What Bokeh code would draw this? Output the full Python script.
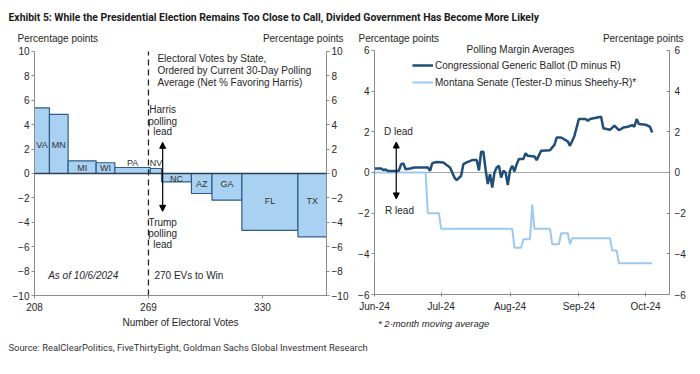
import pandas as pd
from bokeh.plotting import figure
from bokeh.models import (Range1d, LinearAxis, FixedTicker, Label, Span, Arrow, NormalHead,
                          DatetimeTickFormatter, Legend, LegendItem)
from bokeh.core.properties import value
from bokeh.layouts import column, row
from bokeh.embed import file_html
from bokeh.resources import INLINE

# ---------------- data ----------------
title_text = ("Exhibit 5: While the Presidential Election Remains Too Close to Call, "
              "Divided Government Has Become More Likely")
source_text = "Source: RealClearPolitics, FiveThirtyEight, Goldman Sachs Global Investment Research"

states = ["VA", "MN", "MI", "WI", "PA", "NV", "NC", "AZ", "GA", "FL", "TX"]
electoral_votes = [13, 10, 15, 10, 19, 6, 16, 11, 16, 30, 40]
net_harris = [5.38, 4.84, 1.04, 0.88, 0.49, 0.41, -0.68, -1.64, -2.19, -4.67, -5.19]
ev_base = 203
ev_to_win = 269
ev_ticks = [208, 269, 330]
ev_tick_labels = ["208", "269", "330"]
y_ticks_left = [-10, -8, -6, -4, -2, 0, 2, 4, 6, 8, 10]

gb_dates = ["2024-06-01", "2024-06-04", "2024-06-05", "2024-06-06", "2024-06-07", "2024-06-11",
            "2024-06-12", "2024-06-13", "2024-06-14", "2024-06-15", "2024-06-17", "2024-06-19",
            "2024-06-25", "2024-06-26", "2024-06-27", "2024-06-29", "2024-07-02", "2024-07-03",
            "2024-07-05", "2024-07-07", "2024-07-08", "2024-07-10", "2024-07-11", "2024-07-13",
            "2024-07-15", "2024-07-17", "2024-07-18", "2024-07-19", "2024-07-20", "2024-07-21",
            "2024-07-22", "2024-07-23", "2024-07-24", "2024-07-25", "2024-07-26", "2024-07-27",
            "2024-07-28", "2024-07-29", "2024-07-30", "2024-07-31", "2024-08-01", "2024-08-02",
            "2024-08-03", "2024-08-04", "2024-08-05", "2024-08-07", "2024-08-08", "2024-08-09",
            "2024-08-12", "2024-08-13", "2024-08-15", "2024-08-19", "2024-08-21", "2024-08-22",
            "2024-08-24", "2024-08-27", "2024-08-28", "2024-08-30", "2024-09-01", "2024-09-04",
            "2024-09-05", "2024-09-06", "2024-09-11", "2024-09-12", "2024-09-14", "2024-09-15",
            "2024-09-17", "2024-09-19", "2024-09-21", "2024-09-23", "2024-09-25", "2024-09-26",
            "2024-09-27", "2024-09-28", "2024-10-01", "2024-10-03", "2024-10-04"]
gb_values = [0.2, 0.2, 0.12, 0.15, 0.07, 0.07, 0.1, 0.41, 0.44, 0.16, 0.2, 0.25,
             0.25, 0.08, 0.46, 0.52, 0.49, 0.41, 0.25, -0.25, -0.38, -0.16, 0.41, 0.52,
             0.61, 0.61, 0.1, 1.02, 1.02, 0.16, -0.57, -0.08, -0.74, 0.0, 0.25, 0.33,
             -0.25, 0.08, 0.0, -0.62, 0.1, 0.33, 0.05, 0.41, 0.66, 0.66, 0.95, 0.82,
             0.79, 0.61, 1.07, 1.1, 1.36, 1.72, 1.72, 1.53, 1.31, 1.8, 2.63, 2.63,
             2.55, 2.63, 2.74, 2.18, 2.13, 2.1, 2.3, 2.08, 2.21, 2.25, 2.33, 2.25,
             2.63, 2.38, 2.35, 2.25, 1.97]

mt_dates = ["2024-06-01", "2024-06-24", "2024-06-25", "2024-06-30", "2024-07-01", "2024-08-02",
            "2024-08-03", "2024-08-06", "2024-08-07", "2024-08-10", "2024-08-11", "2024-08-12",
            "2024-08-19", "2024-08-20", "2024-08-23", "2024-08-24", "2024-08-27", "2024-08-28",
            "2024-08-29", "2024-09-15", "2024-09-16", "2024-09-18", "2024-09-19", "2024-10-04"]
mt_values = [0, 0, -2.0, -2.0, -2.77, -2.77, -3.7, -3.7, -3.28, -3.28, -1.58, -2.77,
             -2.77, -3.53, -3.53, -2.99, -2.99, -3.53, -3.23, -3.23, -3.83, -3.83, -4.46, -4.46]

month_ticks = ["2024-06-01", "2024-07-01", "2024-08-01", "2024-09-01", "2024-10-01"]
month_labels = ["Jun-24", "Jul-24", "Aug-24", "Sep-24", "Oct-24"]
y_ticks_right = [-6, -4, -2, 0, 2, 4, 6]

# ---------------- styles ----------------
FONT = "Liberation Sans"
NARROW = "Roboto"
TXT = "#262626"
AX = "#8c8c8c"
BAR_FILL = "#A9D1F1"
BAR_LINE = "#2F5C8A"
GB_COLOR = "#1F4E79"
MT_COLOR = "#9DC9EE"
bar_label_y = [2.3, 2.3, 0.42, 0.42, 0.9, 0.9, -0.45, -0.85, -0.85, -2.27, -2.27]


def ms(s):
    return pd.Timestamp(s).value / 1e6


def style_axis(ax, tin=0, tout=3, standoff=2):
    ax.axis_line_color = AX
    ax.major_tick_line_color = AX
    ax.minor_tick_line_color = None
    ax.major_tick_in = tin
    ax.major_tick_out = tout
    ax.major_label_text_font = FONT
    ax.major_label_text_font_size = "10px"
    ax.major_label_text_color = TXT
    ax.major_label_standoff = standoff


def lab(p, x, y, text, align="left", size="10px", style="normal", font=FONT, color=TXT):
    p.add_layout(Label(x=x, y=y, text=text, text_align=align, text_baseline="middle",
                       text_font=font, text_font_size=size, text_font_style=style,
                       text_color=color))


def blank(w, h):
    f = figure(width=w, height=h, x_range=Range1d(0, w), y_range=Range1d(0, h),
               output_backend="svg", toolbar_location=None, min_border=0,
               x_axis_location=None, y_axis_location=None)
    f.grid.visible = False
    f.outline_line_color = None
    return f


# ---------------- header figure (title + unit labels) ----------------
pt = blank(700, 44)
lab(pt, 8, 27, title_text, size="10.4px", style="bold", font=NARROW, color="#1a1a1a")
lab(pt, 17, 6.3, "Percentage points")
lab(pt, 343, 6.3, "Percentage points", align="right")
lab(pt, 358, 6.3, "Percentage points")
lab(pt, 683, 6.3, "Percentage points", align="right")

# ---------------- left panel ----------------
x0, x1 = 208, 364.3
pA = figure(width=354, height=286, x_range=Range1d(x0, x1), y_range=Range1d(-10, 10.571),
            output_backend="svg", toolbar_location=None,
            min_border_left=34, min_border_right=28, min_border_top=0, min_border_bottom=34)
pA.grid.visible = False
pA.outline_line_color = None
pA.xaxis.ticker = FixedTicker(ticks=ev_ticks)
pA.xaxis.major_label_overrides = {t: l for t, l in zip(ev_ticks, ev_tick_labels)}
pA.xaxis.axis_label = "Number of Electoral Votes"
pA.xaxis.axis_label_text_font = FONT
pA.xaxis.axis_label_text_font_size = "10px"
pA.xaxis.axis_label_text_font_style = "normal"
pA.xaxis.axis_label_text_color = TXT
pA.xaxis.axis_label_standoff = 3
pA.yaxis.ticker = FixedTicker(ticks=y_ticks_left)
pA.add_layout(LinearAxis(ticker=FixedTicker(ticks=y_ticks_left)), "right")
for ax in pA.yaxis:
    style_axis(ax)
    ax.bounds = (min(y_ticks_left), max(y_ticks_left))
style_axis(pA.xaxis[0], standoff=4)

starts = []
acc = ev_base
for ev in electoral_votes:
    starts.append(acc)
    acc += ev
ends = [s + e for s, e in zip(starts, electoral_votes)]
pA.quad(left=starts, right=ends, bottom=0, top=net_harris, fill_color=BAR_FILL,
        line_color=BAR_LINE, line_width=1.2)
pA.add_layout(Span(location=0, dimension="width", line_color="#2b3f55", line_width=1.5))
pA.segment(x0=[ev_to_win], y0=[min(y_ticks_left)], x1=[ev_to_win], y1=[max(y_ticks_left)],
           line_color="#222222", line_width=1.3, line_dash="6 4")
label_x = [(max(s, x0) + min(e, x1)) / 2 for s, e in zip(starts, ends)]
pA.text(x=label_x, y=bar_label_y, text=states, text_align="center", text_baseline="middle",
        text_font=value(FONT), text_font_size="9px", text_color="#333333")

pA.add_layout(Arrow(x_start=276.6, y_start=-3.1, x_end=276.6, y_end=2.55,
                    start=NormalHead(size=6, fill_color="black", line_color="black"),
                    end=NormalHead(size=6, fill_color="black", line_color="black"),
                    line_color="black", line_width=1.2))
for t, yy in zip(["Harris", "polling", "lead"], [5.25, 4.28, 3.45]):
    lab(pA, 276.6, yy, t, align="center")
for t, yy in zip(["Trump", "polling", "lead"], [-4.0, -4.93, -5.82]):
    lab(pA, 276.6, yy, t, align="center")
for t, yy in zip(["Electoral Votes by State,", "Ordered  by Current  30-Day Polling",
                  "Average  (Net % Favoring Harris)"], [9.43, 8.47, 7.48]):
    lab(pA, 273.8, yy, t)
lab(pA, 215.3, -8.39, "As of 10/6/2024", style="italic")
lab(pA, 272.2, -8.39, "270 EVs to Win")

# ---------------- right panel ----------------
d0 = pd.Timestamp("2024-06-01")
d1 = pd.Timestamp("2024-10-11 19:00")
pB = figure(width=346, height=272, x_axis_type="datetime", x_range=Range1d(d0, d1),
            y_range=Range1d(-6, 6.295), output_backend="svg", toolbar_location=None,
            min_border_left=20, min_border_right=31, min_border_top=0, min_border_bottom=22)
pB.grid.visible = False
pB.outline_line_color = None
tick_ms = [ms(d) for d in month_ticks]
pB.xaxis.ticker = FixedTicker(ticks=tick_ms)
pB.xaxis.formatter = DatetimeTickFormatter(days="%b-%y", months="%b-%y", years="%b-%y")
pB.xaxis.major_label_overrides = {t: l for t, l in zip(tick_ms, month_labels)}
pB.yaxis.ticker = FixedTicker(ticks=y_ticks_right)
pB.add_layout(LinearAxis(ticker=FixedTicker(ticks=y_ticks_right)), "right")
style_axis(pB.xaxis[0], tin=2, tout=2, standoff=4)
style_axis(pB.yaxis[0], tin=0, tout=3)
style_axis(pB.yaxis[1], tin=3, tout=0, standoff=5)
for ax in pB.yaxis:
    ax.bounds = (min(y_ticks_right), max(y_ticks_right))

pB.add_layout(Span(location=0, dimension="width", line_color="#A6A6A6", line_width=1,
                   level="underlay"))
r_mt = pB.line(x=pd.to_datetime(mt_dates), y=mt_values, line_color=MT_COLOR, line_width=2)
r_gb = pB.line(x=pd.to_datetime(gb_dates), y=gb_values, line_color=GB_COLOR, line_width=2.5)

legend = Legend(items=[LegendItem(label="Congressional Generic Ballot (D minus R)", renderers=[r_gb]),
                       LegendItem(label="Montana Senate (Tester-D minus Sheehy-R)*", renderers=[r_mt])],
                location=(38, 205), padding=0, margin=0, spacing=3,
                label_text_font=FONT, label_text_font_size="10px", label_text_color=TXT,
                label_height=14, glyph_height=14, glyph_width=21, label_standoff=2,
                border_line_color=None, background_fill_alpha=0)
pB.add_layout(legend)

pB.add_layout(Arrow(x_start=ms("2024-06-10 19:00"), y_start=-1.3, x_end=ms("2024-06-10 19:00"),
                    y_end=1.5,
                    start=NormalHead(size=6, fill_color="black", line_color="black"),
                    end=NormalHead(size=6, fill_color="black", line_color="black"),
                    line_color="black", line_width=1.2))
lab(pB, ms("2024-06-11 19:00"), 2.03, "D lead", align="center")
lab(pB, ms("2024-06-12 06:00"), -1.87, "R lead", align="center")
lab(pB, ms("2024-08-05 19:00"), 6.05, "Polling Margin Averages", align="center")

# footnote strip under the right panel
pF = blank(346, 14)
lab(pF, 4, 7, "* 2-month moving average", size="9.5px", style="italic")

# ---------------- source figure ----------------
ps = blank(700, 44)
lab(ps, 8, 27, source_text, size="9.4px", font=NARROW, color="#333333")

layout = column(pt, row(pA, column(pB, pF)), ps)
open("out.html", "w").write(file_html(layout, INLINE))
